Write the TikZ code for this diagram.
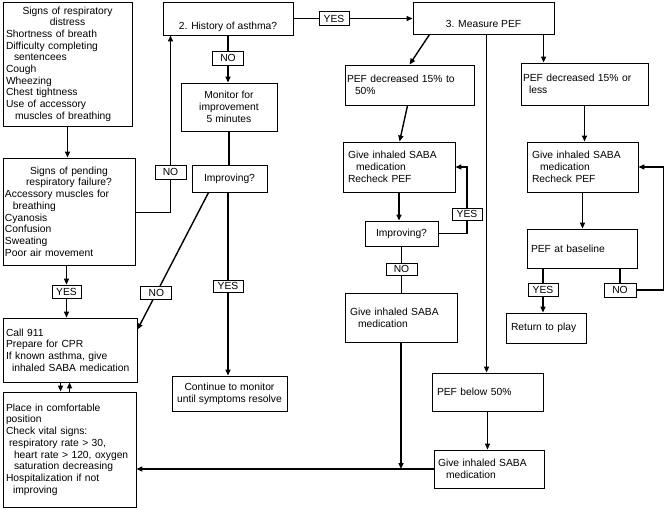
\documentclass[tikz,border=0pt]{standalone}
\usepackage{fontspec}
\setmainfont{Liberation Sans}
\usetikzlibrary{arrows.meta,calc}
\newcommand\fs{\fontsize{10.3pt}{11.7pt}\selectfont}
\newcommand\mycenter[1]{\makebox[\linewidth][c]{#1}}
\newcommand\ind[1][8pt]{\hspace*{#1}}
\begin{document}
\begin{tikzpicture}[x=1pt,y=-1pt,
  box/.style={draw, line width=0.9pt, inner xsep=4pt, inner ysep=0pt, font=\fs},
  lbox/.style={box, align=left},
  cbox/.style={box, align=center},
  tag/.style={draw, fill=white, line width=0.8pt, inner sep=0pt, font=\fs},
  conn/.style={line width=1.4pt},
  arr/.style={conn, -{Triangle[length=6pt,width=5pt]}},
]
\fill[white] (0,0) rectangle (664,509);
\useasboundingbox (0,0) rectangle (664,509);

% left column
\node[lbox, inner xsep=3pt, text width=123pt, minimum height=124pt] (b1) at (67.5,64)
  {\mycenter{Signs of respiratory}\\ \mycenter{distress}\\ Shortness of breath\\ Difficulty completing\\ \ind sentencees\\ Cough\\ Wheezing\\ Chest tightness\\ Use of accessory\\ \ind[9pt]muscles of breathing};
\node[lbox, inner xsep=2pt, text width=128pt, minimum height=107pt] (b2) at (69,211.5)
  {\mycenter{Signs of pending}\\ \mycenter{respiratory failure?}\\ Accessory muscles for\\ \ind breathing\\ Cyanosis\\ Confusion\\ Sweating\\ Poor air movement};
\node[lbox, inner xsep=3pt, text width=128pt, minimum height=64pt] (call) at (70,350)
  {Call 911\\ Prepare for CPR\\ If known asthma, give\\ \ind[6pt]inhaled SABA medication};
\node[lbox, inner xsep=3pt, text width=127pt, minimum height=115pt] (place) at (69.5,449.5)
  {Place in comfortable\\ position\\ Check vital signs:\\ \ind[3pt]respiratory rate > 30,\\ \ind heart rate > 120, oxygen\\ \ind saturation decreasing\\ Hospitalization if not\\ \ind[7pt]improving};

% second column
\node[box, minimum width=130pt, text height=27pt, text depth=6pt] (hist) at (228,18.5) {2. History of asthma?};
\node[cbox, minimum width=96pt, minimum height=48pt] (mon) at (229,107) {Monitor for\\ improvement\\ 5 minutes};
\node[cbox, minimum width=75pt, minimum height=27pt] (imp1) at (229.5,178.5) {Improving?};
\node[cbox, minimum width=115pt, minimum height=35pt] (cont) at (229.5,393.5) {Continue to monitor\\ until symptoms resolve};

% middle column
\node[box, minimum width=141pt, text height=25.5pt, text depth=6.5pt] (meas) at (483.5,18) {3. Measure PEF};
\node[lbox, inner xsep=2pt, text width=125pt, minimum height=40pt] (pefd) at (409.5,85) {PEF decreased 15\% to\\ \ind 50\%};
\node[lbox, inner xsep=5pt, text width=102pt, minimum height=50pt] (give1) at (399,167) {Give inhaled SABA\\ \ind medication\\ Recheck PEF};
\node[cbox, minimum width=73pt, minimum height=25pt] (imp2) at (401.5,233.5) {Improving?};
\node[lbox, inner xsep=5pt, text width=102pt, minimum height=49pt] (give2) at (401,317.5) {Give inhaled SABA\\ \ind medication};
\node[lbox, inner xsep=5pt, text width=101pt, minimum height=38pt] (below) at (487.5,392) {PEF below 50\%};
\node[lbox, inner xsep=4pt, text width=102pt, minimum height=38pt] (give3) at (489,469) {Give inhaled SABA\\ \ind medication};

% right column
\node[lbox, inner xsep=2pt, text width=123pt, minimum height=42pt] (pefl) at (584.5,84) {PEF decreased 15\% or\\ \ind[6pt]less};
\node[lbox, inner xsep=5pt, text width=101pt, minimum height=50pt] (give4) at (582.5,167) {Give inhaled SABA\\ \ind medication\\ Recheck PEF};
\node[lbox, inner xsep=4pt, text width=102pt, minimum height=39pt] (base) at (582,248.5) {PEF at baseline};
\node[lbox, inner xsep=5pt, text width=70pt, minimum height=30pt] (ret) at (546,328) {Return to play};

% tags
\node[tag, minimum width=31pt, minimum height=14pt] (noU) at (170.5,172) {NO};
\node[tag, minimum width=29pt, minimum height=13pt] (yesL) at (66.5,291.5) {YES};
\node[tag, minimum width=31pt, minimum height=14pt] (noH) at (228,58) {NO};
\node[tag, minimum width=30pt, minimum height=14pt] (yesH) at (334,18.5) {YES};
\node[tag, minimum width=30pt, minimum height=12pt] (yes1) at (228,286) {YES};
\node[tag, minimum width=30pt, minimum height=12pt] (yes2) at (467,214) {YES};
\node[tag, minimum width=31pt, minimum height=12pt] (no2) at (401.5,269) {NO};
\node[tag, minimum width=30pt, minimum height=13pt] (yes3) at (543,289.5) {YES};
\node[tag, minimum width=32pt, minimum height=14pt] (no3) at (620,290) {NO};

% connectors: left
\draw[arr] (b1.south) -- (b1.south |- b2.north);
\draw[conn] ($(b2.north east)+(0,55)$) -| (noU.south);
\draw[arr] (noU.north) -- (noU.north |- hist.south);
\draw[arr] (yesL.north |- b2.south) -- (yesL.north);
\draw[arr] (yesL.south) -- (yesL.south |- call.north);
\draw[arr] ($(call.south west)+(58,0)$) -- ($(place.north west)+(58,0)$);
\draw[arr] ($(place.north west)+(67,0)$) -- ($(call.south west)+(67,0)$);

% second column
\draw[conn] (hist.east) -- (yesH.west);
\draw[arr] (yesH.east) -- (yesH.east -| meas.west);
\draw[conn] (noH.north |- hist.south) -- (noH.north);
\draw[arr] (noH.south) -- (noH.south |- mon.north);
\draw[conn] (mon.south) -- (mon.south |- imp1.north);
\draw[conn] (yes1.north |- imp1.south) -- (yes1.north);
\draw[arr] (yes1.south) -- (yes1.south |- cont.north);
\draw[arr] ($(imp1.south west)+(17,0)$) -- ($(call.north east)+(0,12)$)
  node[tag, pos=0.734, minimum width=31pt, minimum height=13pt] (noM) {NO};

% middle column
\draw[arr] ($(meas.south west)+(17,0)$) -- ($(pefd.north west)+(65,0)$);
\draw[arr] ($(pefd.south west)+(63,0)$) -- ($(give1.north west)+(57,0)$);
\draw[arr] (give1.south) -- (give1.south |- imp2.north);
\draw[conn] (imp2.east) -| (yes2.south);
\draw[arr] (yes2.north) |- (give1.east);
\draw[conn] (no2.north |- imp2.south) -- (no2.north);
\draw[conn] (no2.south) -- (no2.south |- give2.north);
\draw[arr] (give2.south) -- (give2.south |- give3.west);
\draw[arr] (give3.west) -- (give3.west -| place.east);
\coordinate (m1) at ($(meas.south west)+(74,0)$);
\draw[arr] (m1) -- (m1 |- below.north);
\draw[arr] (below.south) -- (below.south |- give3.north);

% right column
\coordinate (m2) at ($(meas.south west)+(131,0)$);
\draw[arr] (m2) -- (m2 |- pefl.north);
\draw[arr] (pefl.south) -- (pefl.south |- give4.north);
\draw[arr] (give4.south) -- (give4.south |- base.north);
\draw[conn] (yes3.north |- base.south) -- (yes3.north);
\draw[arr] (yes3.south) -- (yes3.south |- ret.north);
\draw[conn] (no3.north |- base.south) -- (no3.north);
\draw[arr] (no3.east) -- ++(27,0) |- (give4.east);
\end{tikzpicture}
\end{document}
